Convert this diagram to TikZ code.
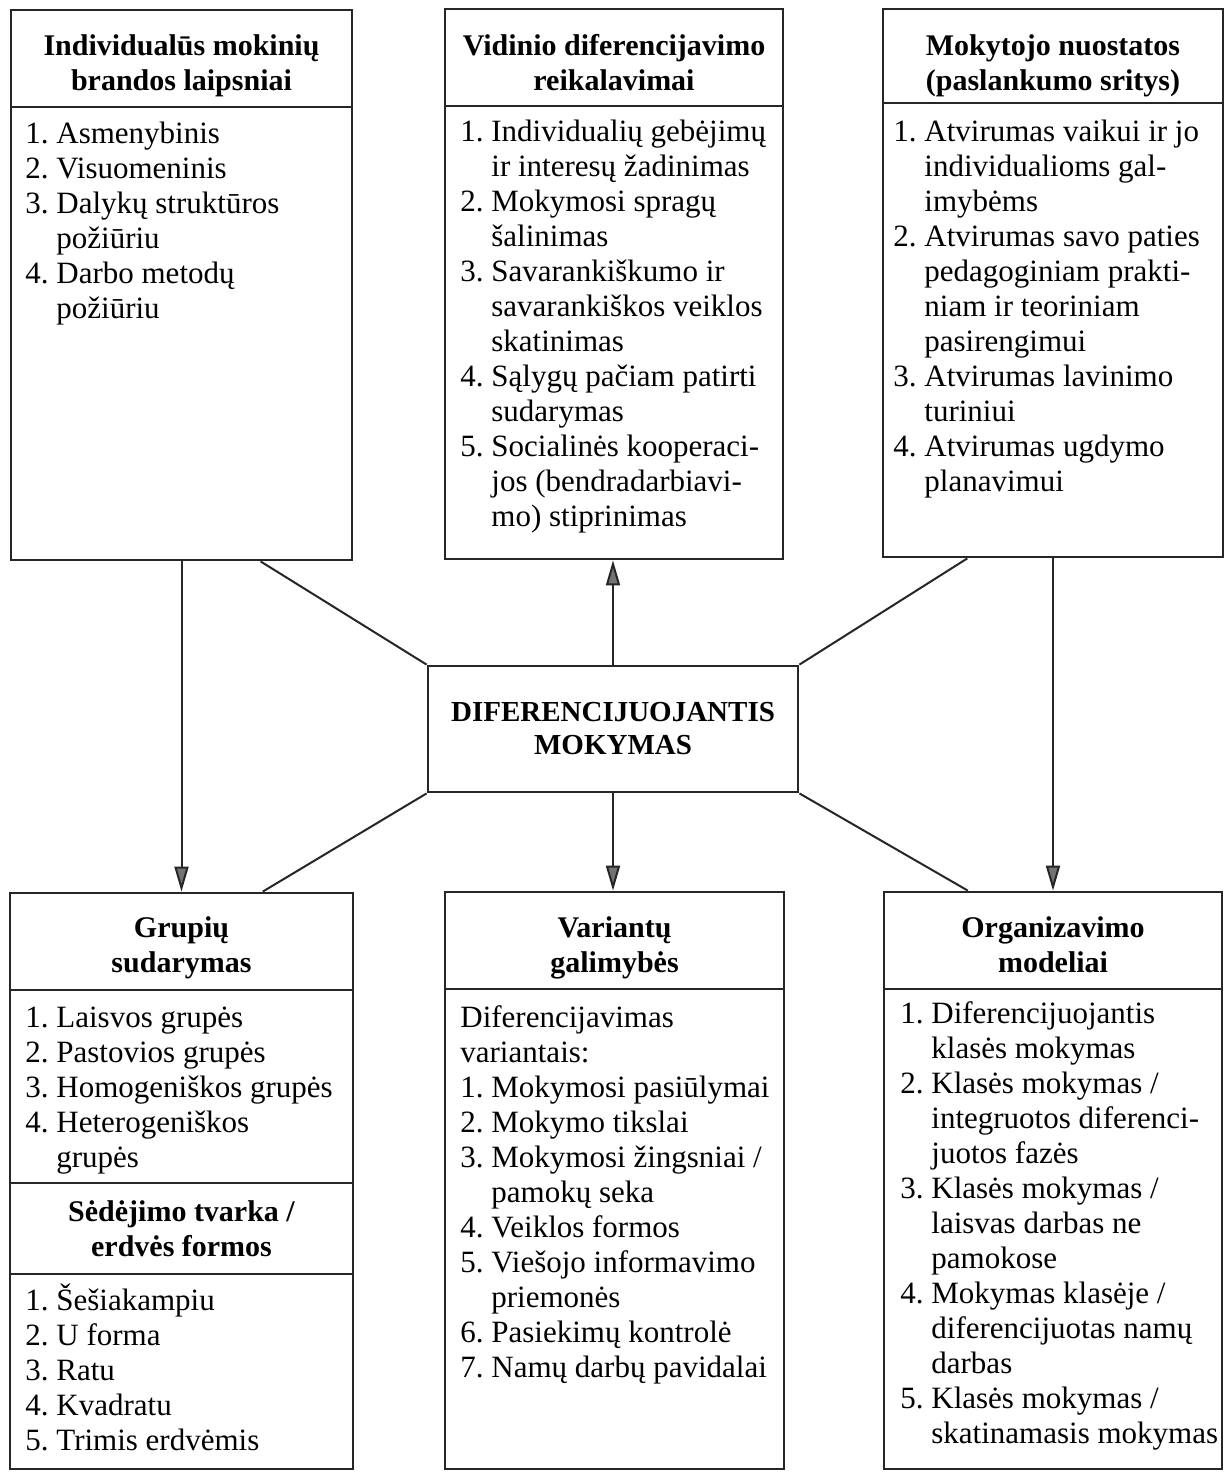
\documentclass[tikz,border=0pt]{standalone}
\usepackage{fontspec}
\setmainfont{Liberation Serif}
\usetikzlibrary{arrows.meta,positioning,fit,calc}
\definecolor{ink}{gray}{0.15}
\definecolor{tipgray}{gray}{0.45}

\begin{document}
\begin{tikzpicture}[x=0.5pt,y=-0.5pt]
  % Styles
  \tikzstyle{box}=[draw=ink,line width=1.4pt,inner sep=0pt]
  \tikzstyle{ttl}=[font=\fontsize{15}{17.5}\selectfont\bfseries,inner sep=0pt,anchor=base]
  \tikzstyle{lst}=[font=\fontsize{15.5}{17.5}\selectfont,inner sep=0pt,anchor=base west]
  \tikzstyle{rule}=[draw=ink,line width=1pt]
  \tikzstyle{con}=[draw=ink,line width=1pt]
  \tikzstyle{arr}=[con,-{Triangle[length=12.5pt,width=7pt,fill=tipgray]}]

  \useasboundingbox (0,0) rectangle (1228,1472);

  % Boxes
  \node[box,fit={(11,10) (352,560)}] (ind) {};
  \node[box,fit={(445,9) (783,559)}] (vid) {};
  \node[box,fit={(883,9) (1223,557)}] (mok) {};
  \node[box,minimum width=185pt,minimum height=63pt,align=center,
        font=\fontsize{14.5}{16.5}\selectfont\bfseries] (dm) at (613,729)
        {DIFERENCIJUOJANTIS\\MOKYMAS};
  \node[box,fit={(10,893) (353,1469)}] (grp) {};
  \node[box,fit={(445,892) (784,1469)}] (var) {};
  \node[box,fit={(884,892) (1222,1469)}] (org) {};

  % Rules under the titles
  \draw[rule] (11,107) -- (352,107);
  \draw[rule] (445,106) -- (783,106);
  \draw[rule] (883,103) -- (1223,103);
  \draw[rule] (10,990) -- (353,990);
  \draw[rule] (10,1183) -- (353,1183);
  \draw[rule] (10,1274) -- (353,1274);
  \draw[rule] (445,989) -- (784,989);
  \draw[rule] (884,989) -- (1222,989);

  % Top row
  \node[ttl] (indT) at (181.5,55) {\begin{tabular}[t]{@{}c@{}}Individualūs mokinių\\brandos laipsniai\end{tabular}};
  \node[lst] (indL) at (25,143) {\begin{tabular}[t]{@{}l@{\ }l@{}}
    1. & Asmenybinis\\
    2. & Visuomeninis\\
    3. & Dalykų struktūros\\
       & požiūriu\\
    4. & Darbo metodų\\
       & požiūriu
  \end{tabular}};

  \node[ttl] (vidT) at (614,55) {\begin{tabular}[t]{@{}c@{}}Vidinio diferencijavimo\\reikalavimai\end{tabular}};
  \node[lst] (vidL) at (460,141) {\begin{tabular}[t]{@{}l@{\ }l@{}}
    1. & Individualių gebėjimų\\
       & ir interesų žadinimas\\
    2. & Mokymosi spragų\\
       & šalinimas\\
    3. & Savarankiškumo ir\\
       & savarankiškos veiklos\\
       & skatinimas\\
    4. & Sąlygų pačiam patirti\\
       & sudarymas\\
    5. & Socialinės kooperaci-\\
       & jos (bendradarbiavi-\\
       & mo) stiprinimas
  \end{tabular}};

  \node[ttl] (mokT) at (1053,55) {\begin{tabular}[t]{@{}c@{}}Mokytojo nuostatos\\(paslankumo sritys)\end{tabular}};
  \node[lst] (mokL) at (893,141) {\begin{tabular}[t]{@{}l@{\ }l@{}}
    1. & Atvirumas vaikui ir jo\\
       & individualioms gal-\\
       & imybėms\\
    2. & Atvirumas savo paties\\
       & pedagoginiam prakti-\\
       & niam ir teoriniam\\
       & pasirengimui\\
    3. & Atvirumas lavinimo\\
       & turiniui\\
    4. & Atvirumas ugdymo\\
       & planavimui
  \end{tabular}};

  % Bottom row
  \node[ttl] (grpT) at (181.5,937) {\begin{tabular}[t]{@{}c@{}}Grupių\\sudarymas\end{tabular}};
  \node[lst] (grpL) at (25,1027) {\begin{tabular}[t]{@{}l@{\ }l@{}}
    1. & Laisvos grupės\\
    2. & Pastovios grupės\\
    3. & Homogeniškos grupės\\
    4. & Heterogeniškos\\
       & grupės
  \end{tabular}};
  \node[ttl] (sedT) at (181.5,1221) {\begin{tabular}[t]{@{}c@{}}Sėdėjimo tvarka /\\erdvės formos\end{tabular}};
  \node[lst] (sedL) at (25,1310) {\begin{tabular}[t]{@{}l@{\ }l@{}}
    1. & Šešiakampiu\\
    2. & U forma\\
    3. & Ratu\\
    4. & Kvadratu\\
    5. & Trimis erdvėmis
  \end{tabular}};

  \node[ttl] (varT) at (614.5,937) {\begin{tabular}[t]{@{}c@{}}Variantų\\galimybės\end{tabular}};
  \node[lst] (varL) at (460,1027) {\begin{tabular}[t]{@{}l@{\ }l@{}}
    \multicolumn{2}{@{}l@{}}{Diferencijavimas}\\
    \multicolumn{2}{@{}l@{}}{variantais:}\\
    1. & Mokymosi pasiūlymai\\
    2. & Mokymo tikslai\\
    3. & Mokymosi žingsniai /\\
       & pamokų seka\\
    4. & Veiklos formos\\
    5. & Viešojo informavimo\\
       & priemonės\\
    6. & Pasiekimų kontrolė\\
    7. & Namų darbų pavidalai
  \end{tabular}};

  \node[ttl] (orgT) at (1053,937) {\begin{tabular}[t]{@{}c@{}}Organizavimo\\modeliai\end{tabular}};
  \node[lst] (orgL) at (900,1023) {\begin{tabular}[t]{@{}l@{\ }l@{}}
    1. & Diferencijuojantis\\
       & klasės mokymas\\
    2. & Klasės mokymas /\\
       & integruotos diferenci-\\
       & juotos fazės\\
    3. & Klasės mokymas /\\
       & laisvas darbas ne\\
       & pamokose\\
    4. & Mokymas klasėje /\\
       & diferencijuotas namų\\
       & darbas\\
    5. & Klasės mokymas /\\
       & skatinamasis mokymas
  \end{tabular}};

  % Connections
  \draw[arr] (ind.south) -- (ind.south |- grp.north);
  \draw[arr] (dm.north) -- (dm.north |- vid.south);
  \draw[arr] (mok.south) -- (mok.south |- org.north);
  \draw[arr] (dm.south) -- (dm.south |- var.north);
  \draw[con] (dm.north west) -- ($(ind.south west)!.73!(ind.south east)$);
  \draw[con] (dm.north east) -- ($(mok.south west)!.25!(mok.south east)$);
  \draw[con] (dm.south west) -- ($(grp.north west)!.735!(grp.north east)$);
  \draw[con] (dm.south east) -- ($(org.north west)!.25!(org.north east)$);
\end{tikzpicture}
\end{document}
